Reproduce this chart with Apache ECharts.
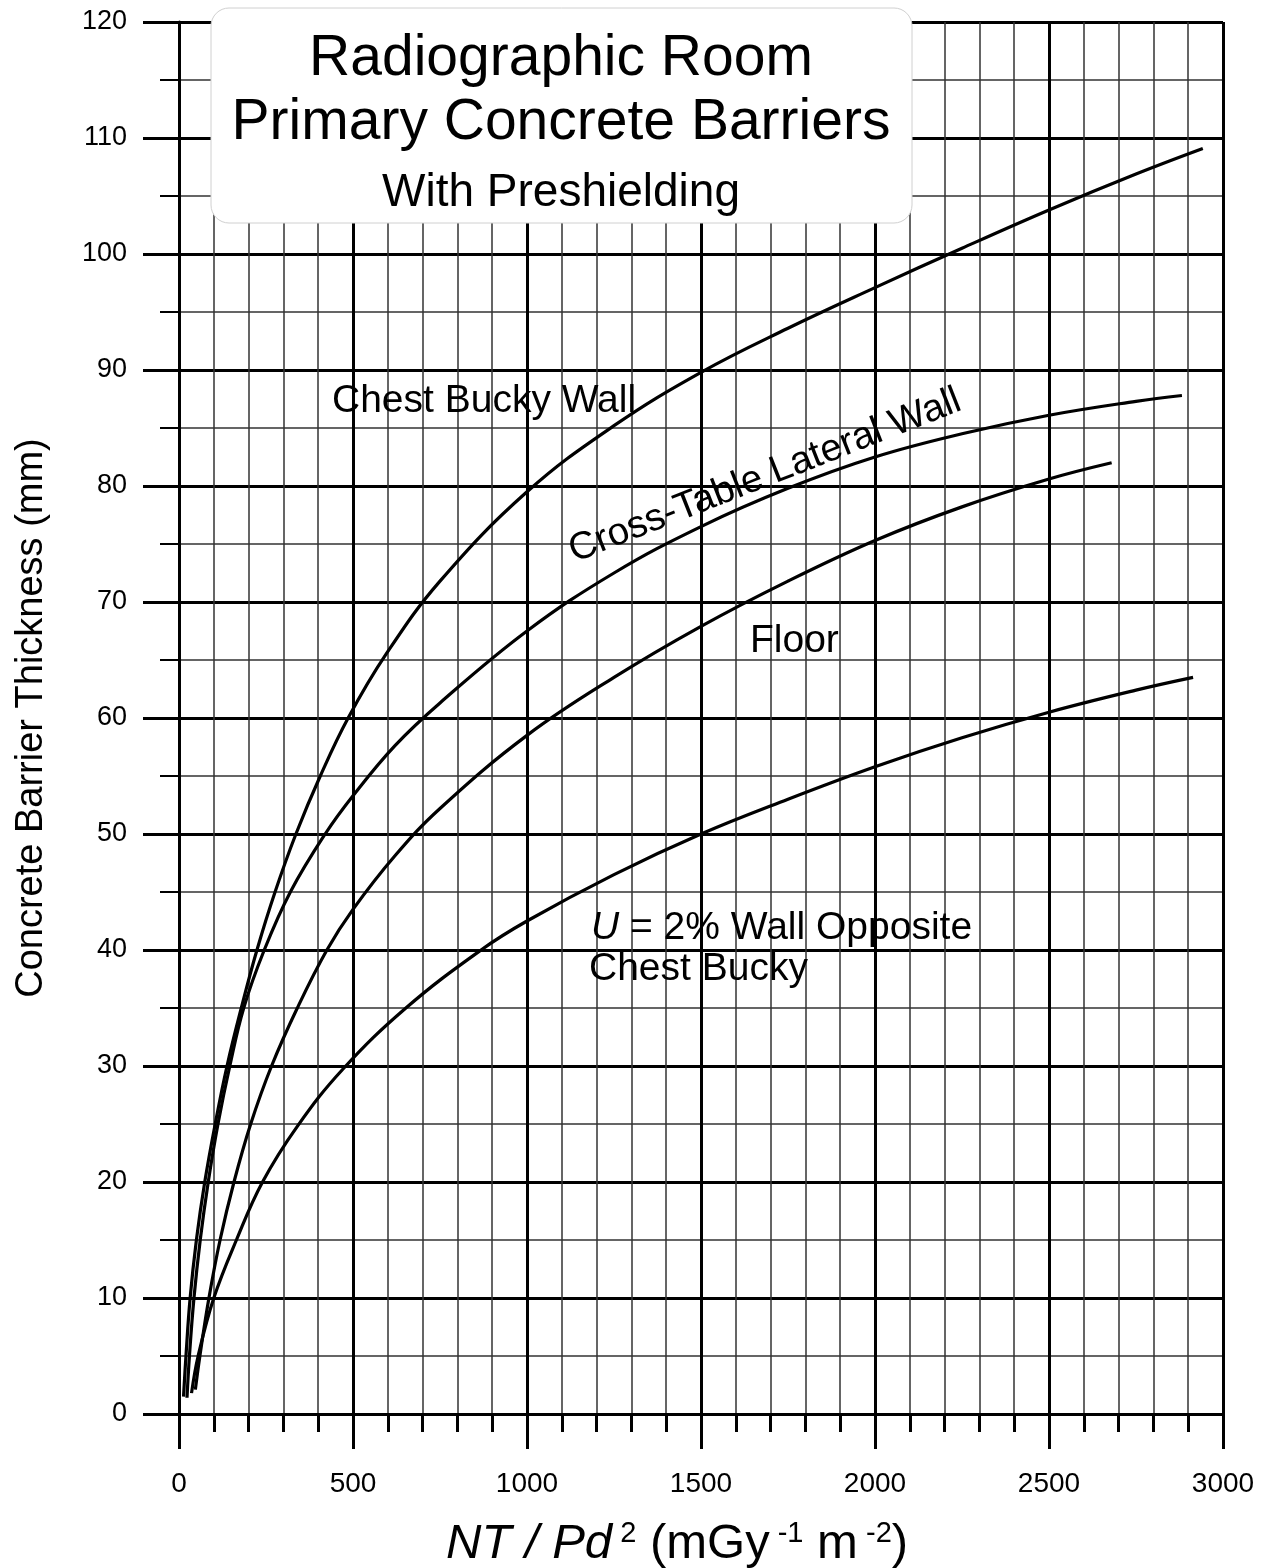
<!DOCTYPE html>
<html>
<head>
<meta charset="utf-8">
<script src="https://cdn.jsdelivr.net/npm/echarts@6/dist/echarts.min.js"></script>
<style>
  html, body { margin: 0; padding: 0; background: #fff; }
  #chart { width: 1266px; height: 1568px; }
</style>
</head>
<body>
<div id="chart"></div>
<script>
// [NT/Pd^2, thickness mm]
var chestBuckyWall = [
  [13, 1.5], [20, 5], [32, 10], [50, 15], [74, 20], [104, 25], [138, 30], [179, 35],
  [224, 40], [276, 45], [336, 50], [406, 55], [486, 60], [595, 65.5], [750, 71.8],
  [1000, 79.5], [1250, 85.2], [1500, 89.8], [1750, 93.6], [2000, 97.1], [2250, 100.5],
  [2500, 103.8], [2750, 106.9], [2942, 109.1]
]
var crossTableWall = [
  [23, 1.4], [30, 5], [43, 10], [61, 15], [84, 20], [112, 25], [146, 30], [186, 35],
  [245, 40], [320, 45], [420, 50], [500, 53.3], [620, 57.6], [750, 61.3], [1000, 67.5],
  [1250, 72.5], [1500, 76.5], [1750, 79.8], [2000, 82.5], [2250, 84.5], [2500, 86.1],
  [2750, 87.3], [2882, 87.8]
]
var floorCurve = [
  [47, 2.1], [60, 5], [86, 10], [118, 15], [158, 20], [206, 25], [266, 30], [340, 35],
  [425, 40], [500, 43.5], [620, 48.1], [750, 52.2], [1000, 58.5], [1250, 63.5], [1500, 67.9],
  [1750, 71.8], [2000, 75.3], [2250, 78.2], [2500, 80.6], [2680, 82]
]
var oppositeWall = [
  [36, 1.8], [55, 5], [100, 10], [165, 15], [240, 20], [340, 24.8], [470, 29.7], [652, 35],
  [868, 40], [1000, 42.5], [1250, 46.5], [1500, 50], [1750, 53], [2000, 55.8],
  [2250, 58.3], [2500, 60.5], [2750, 62.4], [2914, 63.5]
]
var seriesNames = ['Chest Bucky Wall', 'Cross-Table Lateral Wall', 'Floor', 'U = 2% Wall Opposite Chest Bucky']
var titleLines = ['Radiographic Room', 'Primary Concrete Barriers', 'With Preshielding']

var font = 'Liberation Sans, Arial, sans-serif'
var chart = echarts.init(document.getElementById('chart'))

function curve(name, data) {
  return {
    name: name,
    type: 'line',
    data: data,
    smooth: 0.4,
    symbol: 'none',
    z: 5,
    lineStyle: { color: '#000', width: 3.2 }
  }
}

function txt(x, y, text, size, extra) {
  var s = {
    text: text,
    fill: '#000',
    fontSize: size,
    fontFamily: font,
    textAlign: 'left',
    align: 'left',
    textVerticalAlign: 'middle',
    verticalAlign: 'middle'
  }
  if (extra) Object.assign(s, extra)
  return { type: 'text', x: x, y: y, z: 110, style: s }
}

var option = {
  animation: false,
  backgroundColor: '#fff',
  textStyle: { fontFamily: font },
  grid: { left: 179, right: 43, top: 22, bottom: 154, containLabel: false },
  xAxis: {
    type: 'value',
    min: 0,
    max: 3000,
    interval: 500,
    axisLine: { show: true, lineStyle: { color: '#000', width: 3 } },
    axisTick: { show: true, length: 35, lineStyle: { color: '#000', width: 3 } },
    minorTick: { show: true, splitNumber: 5, length: 18, lineStyle: { color: '#000', width: 3 } },
    axisLabel: { color: '#000', fontSize: 28, margin: 56, formatter: function (v) { return String(v) } },
    splitLine: { show: true, lineStyle: { color: '#000', width: 3 } },
    minorSplitLine: { show: true, lineStyle: { color: '#333', width: 1.5 } }
  },
  yAxis: {
    type: 'value',
    min: 0,
    max: 120,
    interval: 10,
    name: 'Concrete Barrier Thickness (mm)',
    nameLocation: 'middle',
    nameGap: 128,
    nameTextStyle: { color: '#000', fontSize: 38 },
    axisLine: { show: true, lineStyle: { color: '#000', width: 3 } },
    axisTick: { show: true, length: 36, lineStyle: { color: '#000', width: 3 } },
    minorTick: { show: true, splitNumber: 2, length: 19, lineStyle: { color: '#000', width: 2 } },
    axisLabel: { color: '#000', fontSize: 27, margin: 52 },
    splitLine: { show: true, lineStyle: { color: '#000', width: 3 } },
    minorSplitLine: { show: true, lineStyle: { color: '#333', width: 1.5 } }
  },
  series: [
    curve(seriesNames[0], chestBuckyWall),
    curve(seriesNames[1], crossTableWall),
    curve(seriesNames[2], floorCurve),
    curve(seriesNames[3], oppositeWall)
  ],
  graphic: [
    {
      type: 'rect',
      z: 100,
      shape: { x: 211, y: 8, width: 701, height: 215, r: 18 },
      style: { fill: '#fff', stroke: '#d0d0d0', lineWidth: 1 }
    },
    txt(561, 59, titleLines[0], 57, { textAlign: 'center', align: 'center' }),
    txt(561, 123, titleLines[1], 57, { textAlign: 'center', align: 'center' }),
    txt(561, 193, titleLines[2], 46, { textAlign: 'center', align: 'center' }),
    txt(332, 401, 'Chest Bucky Wall', 39),
    {
      type: 'text',
      x: 765,
      y: 476,
      rotation: 21.5 * Math.PI / 180,
      z: 110,
      style: {
        text: 'Cross-Table Lateral Wall',
        fill: '#000',
        fontSize: 38.5,
        fontFamily: font,
        textAlign: 'center',
        align: 'center',
        textVerticalAlign: 'middle',
        verticalAlign: 'middle'
      }
    },
    txt(750, 641, 'Floor', 39),
    txt(591, 928, '{i|U} = 2% Wall Opposite', 39, {
      rich: { i: { fontStyle: 'italic', fontSize: 39, fontFamily: font, fill: '#000' } }
    }),
    txt(589, 969, 'Chest Bucky', 39),
    txt(446, 1544, '{i|NT / Pd}{s| 2} (mGy{s| -1} m{s| -2})', 49, {
      rich: {
        i: { fontStyle: 'italic', fontSize: 49, fontFamily: font, fill: '#000' },
        s: { fontSize: 29, fontFamily: font, fill: '#000', verticalAlign: 'top', textVerticalAlign: 'top' }
      }
    })
  ]
}

chart.setOption(option)
</script>
</body>
</html>
